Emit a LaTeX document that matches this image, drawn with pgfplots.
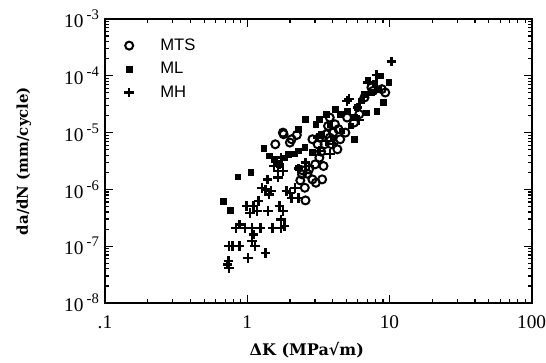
\documentclass[border=0pt]{standalone}
\usepackage{fontspec}
\setmainfont{DejaVu Serif}
\newfontfamily\legfont{Liberation Sans}
\newfontfamily\tickfont{Liberation Serif}
\usepackage{pgfplots}
\pgfplotsset{compat=1.18}
\pgfplotsset{widelegend/.style={legend image code/.code={\path[draw=none,fill=none] (0cm,-0.05cm) rectangle (1.05cm,0.05cm); \draw[##1, only marks] plot coordinates {(0.3cm,0cm)};}}}
\newcommand{\pe}[1]{10\,\raisebox{0.42em}{\fontsize{11}{12}\selectfont -#1}}

\begin{document}
\begin{tikzpicture}
\begin{axis}[
 at={(0,0)}, anchor=south west,
 scale only axis, width=320pt, height=213pt,
 xmode=log, ymode=log,
 xmin=0.1, xmax=100, ymin=1e-8, ymax=1e-3,
 xtick={0.1,1,10,100}, xticklabels={.1,1,10,100},
 ytick={1e-8,1e-7,1e-6,1e-5,1e-4,1e-3},
 yticklabels={\pe{8},\pe{7},\pe{6},\pe{5},\pe{4},\pe{3}},
 tick align=inside,
 major tick length=6pt, minor tick length=3pt,
 every tick/.style={black, line width=0.9pt},
 axis line style={line width=1.5pt},
 ticklabel style={font=\tickfont\fontsize{14.5}{16}\selectfont},
 xticklabel style={yshift=-6pt},
 yticklabel style={xshift=-1pt},
 xlabel={ΔK (MPa√m)},
 ylabel={da/dN (mm/cycle)},
 label style={font=\fontsize{12}{14}\selectfont\bfseries},
 xlabel style={at={(axis description cs:0.473,-0.165)}, anchor=center},
 ylabel style={at={(axis description cs:-0.19,0.5)}, anchor=center, font=\fontsize{11.2}{14}\selectfont\bfseries},
 legend style={draw=none, fill=none, at={(0.02,0.95)}, anchor=north west,
   font=\legfont\fontsize{12.5}{14}\selectfont, row sep=3.5pt},
 legend cell align=left,
]
\addplot[only marks, widelegend, mark=o, mark size=3pt, line width=1.5pt, black] coordinates {
(1.576,6.23e-6) (1.803,9.35e-6) (1.995,6.67e-6) (2.233,9.09e-6) (1.783,1e-5) (2.052,7.63e-6)
(2.455,2.16e-6) (2.642,1.89e-6) (2.361,1.44e-6) (2.54,1.07e-6) (2.874,1.5e-6) (3.04,1.31e-6)
(3.364,1.5e-6) (2.569,6.4e-7) (2.874,7.63e-6) (3.127,6.23e-6) (3.308,4.62e-6) (3.44,2.58e-6)
(3.216,3.62e-6) (3.006,2.76e-6) (3.806,1.84e-5) (3.701,1.31e-5) (4.027,1e-5) (4.381,1.15e-5)
(4.307,5.08e-6) (4.901,1e-5) (5.041,1.84e-5) (4.505,7.63e-6) (3.598,9.35e-6) (3.915,6.23e-6)
(3.499,6.23e-6) (4.141,1.4e-5) (5.64,1.5e-5) (6.136,2.11e-5) (6.674,4.15e-5) (7.468,6.23e-5)
(7.681,5.44e-5) (9.348,5.08e-5) (8.839,5.82e-5) (2.718,2.25e-6) (2.429,1.84e-6) (3.216,8.16e-6)
(3.806,8.16e-6)
};
\addlegendentry{MTS}
\addplot[only marks, widelegend, mark=square*, mark size=2.1pt, black] coordinates {
(0.679,6.23e-7) (0.759,4.26e-7) (0.859,1.67e-6) (1.058,2.0e-6) (1.31,5.36e-6) (1.424,3.88e-6)
(1.549,3.38e-6) (1.834,3.62e-6) (1.94,4.15e-6) (2.569,1.72e-5) (2.296,1.15e-5) (2.146,4.26e-6)
(2.296,4.75e-6) (2.54,5.58e-6) (2.874,4.56e-6) (3.216,1.72e-5) (3.04,1.4e-5) (3.308,9.35e-6)
(4.141,2.58e-5) (4.505,2.11e-5) (5.041,2.41e-5) (5.64,7.63e-6) (5.966,2.76e-5) (6.865,2.25e-5)
(7.061,8.39e-5) (8.125,2.35e-5) (9.09,3.38e-5) (9.888,7.62e-5) (8.594,1e-4) (7.9,7.32e-5)
(6.674,4.75e-5) (6.31,3.62e-5) (7.468,5.08e-5) (8.356,5.82e-5) (3.598,2.11e-5) (3.806,1.4e-5)
(4.027,8.16e-6) (4.634,1.07e-5) (5.332,1.31e-5) (5.64,1.84e-5) (1.686,2.76e-6) (2.296,2.41e-6)
};
\addlegendentry{ML}
\addplot[only marks, widelegend, mark=+, mark size=3.6pt, line width=1.8pt, black] coordinates {
(10.34,1.79e-4) (8.125,1.04e-4) (5.184,3.88e-5) (7.061,7.62e-5) (5.966,2.76e-5) (6.136,1.65e-5)
(4.027,6.23e-6) (3.598,7.13e-6) (3.806,4.15e-6) (3.216,4.75e-6) (2.718,2.58e-6) (2.296,2.35e-6)
(2.171,1.07e-6) (1.995,8.73e-7) (1.886,9.35e-7) (2.052,7.13e-7) (2.296,7.13e-7) (1.734,3.62e-6)
(1.686,2.76e-6) (1.783,2.11e-6) (1.639,1.61e-6) (1.385,1.5e-6) (1.347,1.0e-6) (1.465,9.35e-7)
(1.273,1.07e-6) (1.424,8.16e-7) (1.204,6.23e-7) (1.106,5.08e-7) (0.989,5.08e-7) (1.046,3.88e-7)
(1.17,4.15e-7) (1.4,4.15e-7) (1.686,5.08e-7) (1.783,4.15e-7) (1.734,2.96e-7) (0.884,2.41e-7)
(0.835,2.11e-7) (0.961,2.11e-7) (1.076,2.11e-7) (1.238,2.11e-7) (1.507,2.11e-7) (1.734,2.11e-7)
(1.834,2.25e-7) (1.106,1.61e-7) (1.076,1.22e-7) (1.138,1.0e-7) (0.747,1e-7) (0.79,1e-7)
(0.884,1e-7) (1.017,6.23e-8) (1.347,7.63e-8) (0.738,5.44e-8) (0.747,4.15e-8) (0.726,4.75e-8)
(1.639,2.11e-6) (1.549,2.58e-6) (2.569,2.96e-6) (5.041,3.62e-5) (3.127,8.16e-6)
};
\addlegendentry{MH}
\end{axis}
\pgfresetboundingbox
\path[use as bounding box] (-78.75pt,-45pt) rectangle (330.75pt,227.25pt);
\end{tikzpicture}
\end{document}
